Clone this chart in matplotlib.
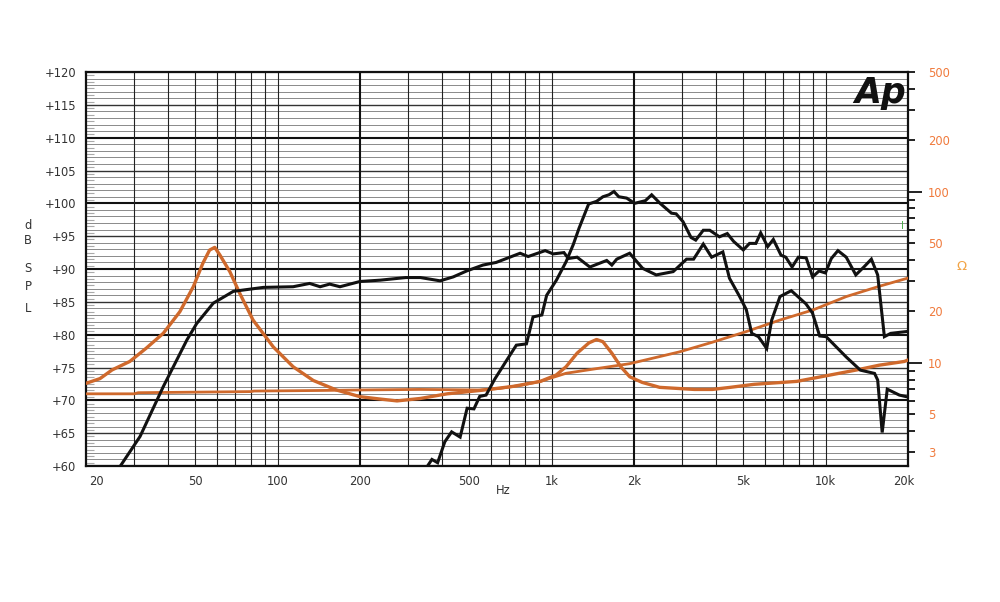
import matplotlib
matplotlib.use("Agg")
import matplotlib.pyplot as plt
from matplotlib.ticker import NullLocator, NullFormatter
from matplotlib.transforms import ScaledTranslation

plt.rcParams['font.family'] = ['DejaVu Sans']

# woofer SPL (Hz, dB)
woofer_f = [26, 26.6, 31.5, 38.3, 46.7, 50.7, 58.3, 69, 88.8, 114, 131, 143, 155, 169, 200,
            237, 294, 332, 392, 438, 490, 562, 628, 768, 822, 948, 1014, 1110, 1152,
            1240, 1380, 1590, 1660, 1730, 1928, 2150, 2410, 2780, 3110, 3300, 3580,
            3840, 4220, 4460, 4860, 5140, 5380, 5690, 6100, 6360, 6820, 7500, 8480,
            8960, 9520, 10050, 11900, 13400, 15100, 15500, 16100, 16800, 18600, 20000]
woofer_db = [59.0, 59.9, 64.5, 72.1, 79.2, 81.7, 84.8, 86.6, 87.2, 87.3, 87.8, 87.3, 87.7, 87.3, 88.1,
             88.3, 88.7, 88.7, 88.2, 88.8, 89.7, 90.6, 91.0, 92.4, 91.9, 92.8, 92.3, 92.5, 91.6,
             91.8, 90.3, 91.3, 90.6, 91.5, 92.4, 90.1, 89.1, 89.6, 91.5, 91.5, 93.8,
             91.8, 92.6, 88.6, 85.8, 83.8, 80.2, 79.7, 77.9, 82.2, 85.8, 86.7, 84.7,
             83.3, 79.8, 79.7, 76.6, 74.6, 74.1, 73.1, 65.1, 71.7, 70.8, 70.5]

# tweeter SPL (Hz, dB)
tweeter_f = [340, 366, 384, 408, 432, 464, 492, 521, 547, 577, 620, 686, 744, 810, 856,
             922, 960, 1042, 1130, 1200, 1260, 1366, 1460, 1540, 1620, 1690, 1760, 1880,
             2010, 2200, 2320, 2490, 2740, 2850, 3020, 3230, 3360, 3580, 3780, 4100,
             4380, 4620, 5010, 5280, 5570, 5800, 6150, 6450, 6880, 7160, 7550, 7960,
             8500, 8970, 9470, 9990, 10500, 11100, 11900, 12900, 13800, 14700, 15500,
             16400, 17300, 20000]
tweeter_db = [59.0, 61.0, 60.5, 63.7, 65.2, 64.4, 68.8, 68.7, 70.6, 70.8, 73.2, 76.1, 78.4, 78.6, 82.7,
              83.0, 86.0, 88.3, 91.1, 93.7, 96.2, 99.9, 100.3, 101.0, 101.3, 101.8, 101.0, 100.8,
              100.0, 100.4, 101.3, 100.0, 98.5, 98.4, 97.2, 94.8, 94.4, 95.9, 95.9, 94.9,
              95.4, 94.2, 92.9, 93.9, 93.9, 95.5, 93.4, 94.5, 92.1, 91.8, 90.3, 91.8,
              91.7, 88.8, 89.7, 89.4, 91.6, 92.8, 91.8, 89.1, 90.3, 91.5, 89.1,
              79.7, 80.2, 80.5]

# woofer impedance (Hz, ohm)
wimp_f = [20, 22.5, 24.9, 28.9, 33.2, 38.3, 44, 49.3, 53.4, 56.5, 59, 61.6, 67, 72.8, 81.4,
          96.5, 114, 135, 164, 200, 237, 273, 332, 416, 547, 727, 910, 1040, 1130, 1240,
          1370, 1460, 1540, 1660, 1790, 1930, 2140, 2480, 3320, 3860, 4490, 5490, 7850,
          10400, 13000, 15700, 19400, 20000]
wimp_ohm = [7.6, 8.1, 9.1, 10.2, 12.2, 14.9, 19.9, 27.9, 38.2, 45.6, 47.3, 42.7, 34.1, 25.5, 17.8,
            12.4, 9.5, 7.9, 6.95, 6.35, 6.15, 6.0, 6.2, 6.6, 6.9, 7.3, 7.8, 8.5, 9.5, 11.4,
            13.1, 13.7, 13.3, 11.4, 9.5, 8.3, 7.7, 7.2, 7.0, 7.0, 7.2, 7.5, 7.8,
            8.5, 9.1, 9.7, 10.2, 10.4]

# tweeter impedance (Hz, ohm)
timp_f = [20, 30, 31, 50, 80, 82, 140, 200, 330, 550, 650, 770, 910, 1130, 1420, 1930,
          2930, 3860, 5110, 6820, 9010, 11900, 15800, 20000]
timp_ohm = [6.6, 6.6, 6.7, 6.75, 6.8, 6.85, 6.9, 6.95, 7.0, 6.95, 7.1, 7.4, 7.8, 8.7, 9.2, 9.9,
            11.6, 13.2, 15.2, 17.8, 20.4, 24.4, 28.1, 31.3]

x_ticks = [20, 50, 100, 200, 500, 1000, 2000, 5000, 10000, 20000]
x_labels = ['20', '50', '100', '200', '500', '1k', '2k', '5k', '10k', '20k']
thin_v = [30, 40, 50, 60, 70, 80, 90, 100, 300, 400, 500, 600, 700, 800, 900, 1000,
          3000, 4000, 5000, 6000, 7000, 8000, 9000, 10000]
thick_v = [200, 2000]
ohm_labeled = [3, 5, 10, 20, 50, 100, 200, 500]
ohm_minor = [4, 6, 7, 8, 9, 30, 40, 60, 70, 80, 90, 300, 400]

black = '#111111'
orange = '#cf692c'
txt = '#333333'

fig = plt.figure(figsize=(10, 6.02), dpi=100)
ax = fig.add_axes([0.086, 0.2259, 0.822, 0.6545])
ax.set_xscale('log')
ax.set_xlim(20, 20000)
ax.set_ylim(60, 120)

# grid
for d in range(60, 121):
    if d % 10 == 0:
        ax.axhline(d, color='#111', lw=1.5)
    elif d % 5 == 0:
        ax.axhline(d, color='#333', lw=1.0)
    else:
        ax.axhline(d, color='#8a8a8a', lw=0.7)
for f in thin_v:
    ax.axvline(f, color='#222', lw=0.8)
for f in thick_v:
    ax.axvline(f, color='#111', lw=1.5)

for s in ax.spines.values():
    s.set_linewidth(1.6)
    s.set_color('#111')

ax.set_yticks(range(60, 121, 5))
ax.set_yticklabels(['+%d' % v for v in range(60, 121, 5)])
ax.set_yticks([v + 0.5 for v in range(60, 120)], minor=True)
ax.tick_params(axis='y', which='major', length=0, pad=7, labelsize=8.3, labelcolor=txt)
ax.tick_params(axis='y', which='minor', direction='in', length=6, width=0.8, color='#aaa')
ax.set_xticks(x_ticks)
ax.set_xticklabels(x_labels)
ax.xaxis.set_minor_locator(NullLocator())
ax.tick_params(axis='x', which='major', length=0, pad=6.5, labelsize=8.3, labelcolor=txt)
lbls = ax.get_xticklabels()
lbls[0].set_transform(lbls[0].get_transform() + ScaledTranslation(10 / 100, 0, fig.dpi_scale_trans))
lbls[-1].set_transform(lbls[-1].get_transform() + ScaledTranslation(-4 / 100, 0, fig.dpi_scale_trans))

# impedance axis (right)
ax2 = ax.twinx()
ax2.set_yscale('log')
ax2.set_ylim(2.5, 500)
ax2.set_yticks(ohm_labeled)
ax2.set_yticklabels([str(v) for v in ohm_labeled])
ax2.set_yticks(ohm_minor, minor=True)
ax2.yaxis.set_minor_formatter(NullFormatter())
ax2.tick_params(axis='y', which='both', direction='out', length=5, width=1.3, color='#111')
ax2.tick_params(axis='y', which='major', pad=9.5, labelsize=8.3, labelcolor='#f07a3c')
for t, v in zip(ax2.yaxis.get_major_ticks(), ohm_labeled):
    if v in (10, 100):
        t.tick2line.set_markersize(10)
for s in ax2.spines.values():
    s.set_visible(False)
ax2.patch.set_visible(False)
ax2.plot(wimp_f, wimp_ohm, color=orange, lw=2.4)
ax2.plot(timp_f, timp_ohm, color=orange, lw=2.0)

# SPL curves on top
ax3 = ax.twinx()
ax3.set_ylim(60, 120)
ax3.axis('off')
ax3.plot(woofer_f, woofer_db, color=black, lw=2.2, solid_joinstyle='miter')
ax3.plot(tweeter_f, tweeter_db, color=black, lw=2.2, solid_joinstyle='miter')

ax.set_zorder(0)
ax2.set_zorder(1)
ax3.set_zorder(2)

ax3.text(0.997, 0.99, 'Ap', transform=ax.transAxes, ha='right', va='top',
         fontsize=25, fontweight='bold', style='italic', color='#111')
ax3.text(0.9935, 0.61, 'I', transform=ax.transAxes, ha='center', va='center',
         fontsize=7, color='#44aa44')

ax.text(0.507, -0.061, 'Hz', transform=ax.transAxes, ha='center', va='center',
        fontsize=8.3, color=txt)
for ch, yy in zip(['d', 'B', 'S', 'P', 'L'], [225, 241, 269, 287, 309]):
    fig.text(0.028, 1 - yy / 602, ch, ha='center', va='center', fontsize=8.3, color=txt)
fig.text(0.962, 1 - 267 / 602, '\u03a9', ha='center', va='center', fontsize=9.5, color='#f2a446')

fig.savefig('out.png', dpi=100)
